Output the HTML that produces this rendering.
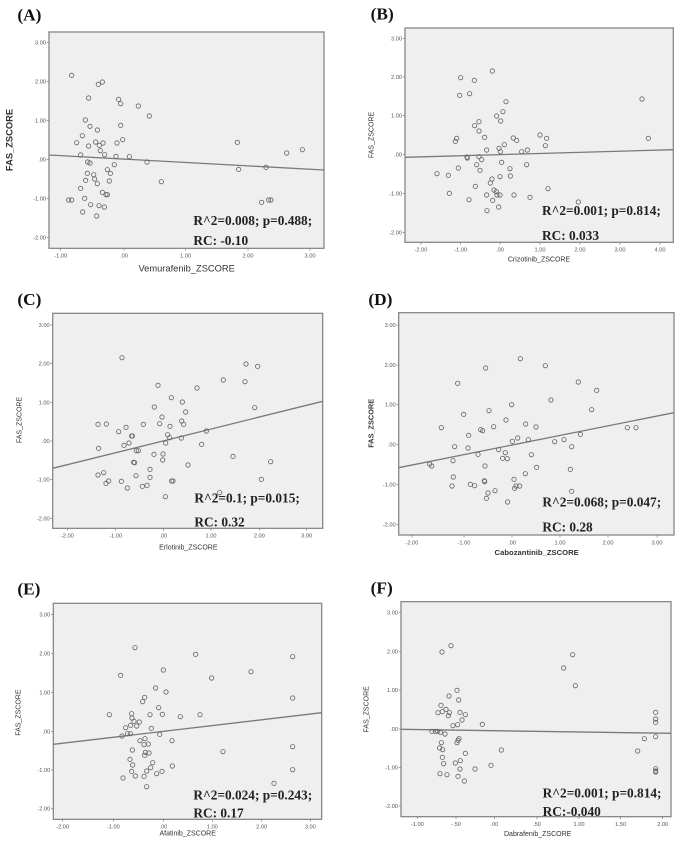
<!DOCTYPE html>
<html><head><meta charset="utf-8"><style>
html,body{margin:0;padding:0;background:#fff;width:680px;height:846px;overflow:hidden}
.p{position:absolute;width:340px;height:280px}
</style></head><body>
<div id="root"></div>
<script>
var panels=[
{ox:0,oy:0,lab:"(A)",lx:52,ly:62,box:[147,96,972,745],
 yt:[[3,127],[2,244],[1,361],[0,478],[-1,596],[-2,713]],
 xt:[["-1.00",182],[".00",372],["1.00",557],["2.00",744],["3.00",930]],
 line:[465,510],r2:[580,675],rc:[580,735],rct:"RC: -0.10",r2t:"R^2=0.008; p=0.488;",
 xtitle:"Vemurafenib_ZSCORE",xtx:560,xty:815,xfs:28,ytx:38,yty:420,yfs:28,
 pts:[[215,226],[295,253],[307,246],[266,294],[356,298],[362,311],[415,318],[448,348],[256,360],[270,379],[292,390],[362,376],[247,407],[230,428],[266,438],[287,426],[309,429],[298,436],[351,429],[368,419],[301,452],[314,464],[242,465],[348,469],[388,470],[263,486],[270,489],[441,486],[343,494],[322,509],[331,520],[262,520],[281,524],[284,537],[257,541],[328,543],[292,551],[484,545],[242,565],[307,577],[318,584],[322,584],[254,595],[206,600],[215,600],[272,614],[297,617],[313,621],[248,636],[290,648],[712,427],[716,508],[798,502],[785,607],[806,600],[813,600],[860,459],[907,449]]},
{ox:340,oy:0,lab:"(B)",lx:92,ly:58,box:[195,84,1000,727],
 yt:[[3,116],[2,231],[1,347],[0,464],[-1,580],[-2,697]],
 xt:[["-2.00",243],["-1.00",362],[".00",480],["1.00",600],["2.00",720],["3.00",840],["4.00",960]],
 line:[472,449],r2:[606,645],rc:[606,720],rct:"RC: 0.033",r2t:"R^2=0.001; p=0.814;",
 xtitle:"Crizotinib_ZSCORE",xtx:597,xty:785,xfs:21,ytx:100,yty:405,yfs:21,
 pts:[[457,213],[362,233],[403,241],[359,286],[389,281],[498,305],[489,335],[470,348],[482,363],[404,377],[417,365],[417,393],[600,405],[620,415],[434,412],[350,415],[346,424],[520,414],[530,421],[616,437],[493,434],[440,450],[477,445],[481,455],[545,455],[562,450],[381,471],[382,474],[417,470],[425,479],[485,487],[560,494],[410,494],[355,504],[510,506],[291,521],[325,526],[420,511],[480,530],[511,528],[456,537],[451,549],[406,559],[462,570],[469,575],[624,566],[328,580],[440,585],[471,585],[480,585],[522,585],[570,592],[387,599],[458,601],[476,621],[441,632],[715,606],[906,297],[925,415]]},
{ox:0,oy:280,lab:"(C)",lx:52,ly:75,box:[158,100,968,745],
 yt:[[3,135],[2,251],[1,367],[0,483],[-1,599],[-2,715]],
 xt:[["-2.00",202],["-1.00",347],[".00",490],["1.00",633],["2.00",778],["3.00",920]],
 line:[565,364],r2:[583,668],rc:[583,740],rct:"RC: 0.32",r2t:"R^2=0.1; p=0.015;",
 xtitle:"Erlotinib_ZSCORE",xtx:565,xty:808,xfs:21,ytx:65,yty:420,yfs:21,
 pts:[[366,233],[738,252],[773,259],[474,316],[670,300],[735,305],[591,324],[514,353],[547,366],[463,381],[764,383],[557,396],[486,411],[294,433],[319,432],[378,442],[430,433],[479,431],[545,423],[551,433],[510,439],[356,455],[395,468],[397,468],[619,453],[503,464],[509,473],[387,489],[372,496],[497,489],[544,474],[605,493],[296,505],[409,512],[415,512],[462,523],[489,522],[401,547],[404,548],[699,529],[812,545],[564,555],[488,540],[450,568],[311,578],[294,585],[408,587],[450,592],[364,604],[326,603],[318,610],[784,598],[515,603],[519,603],[382,624],[427,619],[441,616],[496,650],[659,638]]},
{ox:340,oy:280,lab:"(D)",lx:85,ly:75,box:[176,98,1002,765],
 yt:[[3,135],[2,255],[1,374],[0,493],[-1,613],[-2,733]],
 xt:[["-2.00",216],["-1.00",372],[".00",516],["1.00",660],["2.00",804],["3.00",951]],
 line:[563,398],r2:[607,680],rc:[607,755],rct:"RC: 0.28",r2t:"R^2=0.068; p=0.047;",
 xtitle:"Cabozantinib_ZSCORE",xtx:590,xty:825,xfs:23,ytx:100,yty:430,yfs:22,bold:true,
 pts:[[541,236],[616,257],[437,264],[353,310],[715,306],[770,331],[633,360],[515,374],[755,389],[371,403],[447,392],[498,420],[557,432],[304,443],[461,440],[588,441],[422,449],[428,452],[862,443],[888,443],[721,463],[386,466],[533,474],[565,479],[644,485],[672,479],[517,484],[344,500],[384,504],[695,500],[476,509],[496,518],[414,523],[574,524],[488,535],[502,536],[339,542],[435,558],[590,562],[691,568],[269,552],[275,558],[556,581],[340,591],[433,602],[434,605],[522,598],[391,613],[404,617],[336,618],[539,618],[528,618],[524,625],[465,632],[444,639],[695,634],[439,655],[503,666]]},
{ox:0,oy:566,lab:"(E)",lx:52,ly:85,box:[160,112,965,760],
 yt:[[3,146],[2,262],[1,379],[0,496],[-1,612],[-2,728]],
 xt:[["-2.00",188],["-1.00",340],[".00",490],["1.00",637],["2.00",785],["3.00",931]],
 line:[535,440],r2:[580,700],rc:[580,755],rct:"RC: 0.17",r2t:"R^2=0.024; p=0.243;",
 xtitle:"Afatinib_ZSCORE",xtx:563,xty:808,xfs:21,ytx:62,yty:440,yfs:21,
 pts:[[405,245],[587,265],[878,272],[490,312],[362,328],[753,317],[635,336],[467,366],[498,378],[434,394],[428,407],[878,396],[476,425],[328,446],[395,443],[450,446],[487,445],[541,452],[600,446],[396,456],[402,466],[418,468],[410,480],[392,478],[377,485],[391,503],[454,487],[366,510],[383,503],[479,505],[435,518],[420,524],[516,524],[432,536],[445,534],[436,559],[447,561],[397,552],[669,557],[878,542],[390,580],[458,590],[398,597],[434,568],[452,605],[395,616],[440,615],[486,616],[517,600],[878,611],[369,636],[406,630],[432,631],[470,623],[440,662],[822,652]]},
{ox:340,oy:566,lab:"(F)",lx:92,ly:82,box:[183,107,993,752],
 yt:[[3,140],[2,257],[1,372],[0,489],[-1,604],[-2,720]],
 xt:[["-1.00",232],["-.50",348],[".00",463],[".50",591],["1.00",717],["1.50",842],["2.00",968]],
 line:[490,502],r2:[608,695],rc:[608,750],rct:"RC:-0.040",r2t:"R^2=0.001; p=0.814;",
 xtitle:"Dabrafenib_ZSCORE",xtx:593,xty:810,xfs:21,ytx:86,yty:430,yfs:21,
 pts:[[333,239],[306,258],[698,266],[671,306],[706,359],[327,390],[351,373],[356,402],[303,418],[294,440],[307,437],[318,430],[328,440],[325,449],[360,439],[376,446],[366,462],[353,476],[339,479],[427,475],[276,496],[286,496],[293,496],[301,499],[315,504],[357,518],[354,523],[351,530],[304,530],[299,546],[308,551],[376,562],[484,552],[307,574],[361,584],[346,591],[311,593],[360,609],[405,609],[453,598],[300,623],[321,626],[354,631],[373,645],[947,439],[947,459],[947,469],[947,512],[913,518],[893,555],[947,608],[947,615],[947,618]]}
];
var yl={"3":"3.00","2":"2.00","1":"1.00","0":".00","-1":"-1.00","-2":"-2.00"};
var html="";
panels.forEach(function(p){
 var b=p.box,s='<svg class="p" style="left:'+p.ox+'px;top:'+p.oy+'px" viewBox="0 0 1020 840" xmlns="http://www.w3.org/2000/svg">';
 s+='<text x="'+p.lx+'" y="'+p.ly+'" font-family="Liberation Serif,serif" font-weight="bold" font-size="52" fill="#111">'+p.lab+'</text>';
 s+='<rect x="'+b[0]+'" y="'+b[1]+'" width="'+(b[2]-b[0])+'" height="'+(b[3]-b[1])+'" fill="#efefef" stroke="#8a8a8a" stroke-width="4"/>';
 p.yt.forEach(function(t){s+='<line x1="'+(b[0]-7)+'" y1="'+t[1]+'" x2="'+b[0]+'" y2="'+t[1]+'" stroke="#777" stroke-width="2"/>';
  s+='<text x="'+(b[0]-9)+'" y="'+(t[1]+6)+'" text-anchor="end" font-family="Liberation Sans,sans-serif" font-size="17" fill="#555">'+yl[t[0]]+'</text>';});
 p.xt.forEach(function(t){s+='<line x1="'+t[1]+'" y1="'+b[3]+'" x2="'+t[1]+'" y2="'+(b[3]+7)+'" stroke="#777" stroke-width="2"/>';
  s+='<text x="'+t[1]+'" y="'+(b[3]+28)+'" text-anchor="middle" font-family="Liberation Sans,sans-serif" font-size="17" fill="#555">'+t[0]+'</text>';});
 s+='<line x1="'+b[0]+'" y1="'+p.line[0]+'" x2="'+b[2]+'" y2="'+p.line[1]+'" stroke="#7a7a7a" stroke-width="4"/>';
 p.pts.forEach(function(q){s+='<circle cx="'+q[0]+'" cy="'+q[1]+'" r="6.5" fill="none" stroke="#666" stroke-width="2.5"/>';});
 s+='<text x="'+p.r2[0]+'" y="'+p.r2[1]+'" font-family="Liberation Serif,serif" font-weight="bold" font-size="40" fill="#222">'+p.r2t+'</text>';
 s+='<text x="'+p.rc[0]+'" y="'+p.rc[1]+'" font-family="Liberation Serif,serif" font-weight="bold" font-size="40" fill="#222">'+p.rct+'</text>';
 s+='<text x="'+p.xtx+'" y="'+p.xty+'" text-anchor="middle" font-family="Liberation Sans,sans-serif" font-size="'+p.xfs+'" fill="#333"'+(p.bold?' font-weight="bold"':'')+'>'+p.xtitle+'</text>';
 s+='<text transform="translate('+p.ytx+','+p.yty+') rotate(-90)" text-anchor="middle" font-family="Liberation Sans,sans-serif" font-size="'+p.yfs+'" fill="#333" font-weight="'+(p.lab=="(A)"||p.bold?"bold":"normal")+'">FAS_ZSCORE</text>';
 s+='</svg>';html+=s;});
document.getElementById("root").innerHTML=html;
</script>
</body></html>
